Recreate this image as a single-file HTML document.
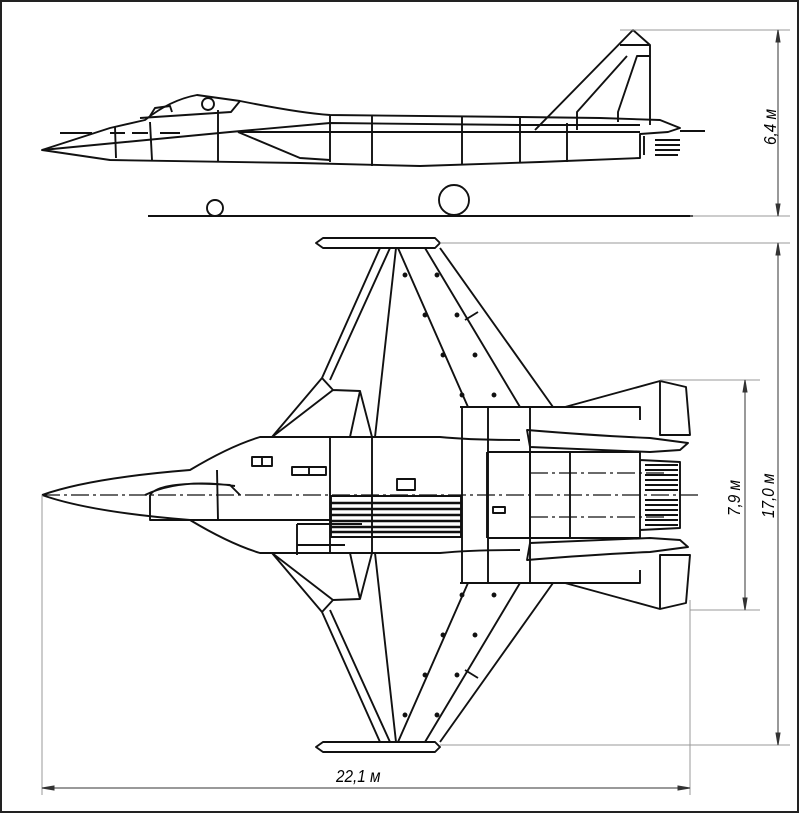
<!DOCTYPE html>
<html><head><meta charset="utf-8"><style>
html,body{margin:0;padding:0;background:#fff;}
svg{display:block;}
text{font-family:"Liberation Sans",sans-serif;font-style:italic;font-size:18px;fill:#000;}
</style></head><body>
<svg width="800" height="814" viewBox="0 0 800 814" xmlns="http://www.w3.org/2000/svg">
<rect x="1" y="1" width="797" height="811" fill="#fff" stroke="#222" stroke-width="2"/>
<g fill="none" stroke="#111" stroke-width="1.9" stroke-linejoin="round">
<!-- SIDE VIEW -->
<path d="M42,150 L110,128 L145,120 Q170,100 197,95 L240,101 Q300,113 330,115 L520,117 L600,118 L660,120 L680,128 L668,132 L640,134 L640,158 L540,162 L420,166 L300,163 L110,160 Z"/>
<path d="M140,118 L231,112 L240,101"/>
<path d="M150,116 L155,108 L170,106 L172,112"/>
<circle cx="208" cy="104" r="6"/>
<path d="M42,150 L230,132 L330,123 L520,125 L640,125"/>
<path d="M238,132 L300,158 L330,160"/>
<path d="M238,132 L330,132 L520,132 L640,132"/>
<path d="M115,127 L116,158 M150,122 L152,160 M218,110 L218,161 M330,116 L330,162 M372,116 L372,166 M462,117 L462,165 M520,118 L520,163 M567,123 L567,162"/>
<path d="M535,130 L633,30 L650,45 L650,125 M650,45 L620,45 M627,56 L577,112 L577,130 M650,56 L637,56 L618,112 L618,122"/>
<path d="M644,136 L644,155 M655,140 L680,140 M655,145 L680,145 M655,150 L680,150 M655,155 L678,155"/>
<path d="M60,133 L92,133 M110,133 L125,133 M132,133 L148,133 M160,133 L180,133 M680,131 L705,131"/>
<path d="M148,216 L693,216"/>
<circle cx="215" cy="208" r="8"/>
<circle cx="454" cy="200" r="15"/>
</g>
<!-- TOP VIEW -->
<g fill="none" stroke="#111" stroke-width="1.9" stroke-linejoin="round">
<g id="half">
<path d="M42,495 Q90,478 190,470 Q230,446 260,437 L440,437 Q470,440 520,440"/>
<path d="M316,243 L323,238 L435,238 L440,243 L435,248 L323,248 Z"/>
<path d="M380,248 L322,378 L333,390 L360,391 L350,437 M390,248 L330,380 M396,248 L375,437 M333,390 L272,437 M322,378 L272,437 M360,391 L372,437"/>
<path d="M398,248 L468,407 M425,248 L520,407 M440,248 L553,407 M465,320 L478,312"/>
<path d="M460,407 L640,407 L640,420 M565,407 L660,381 L686,387 L690,435 L660,435 L660,381"/>
<path d="M462,407 L462,495 M488,407 L488,495 M530,407 L530,495"/>
<path d="M527,430 Q600,436 650,438 L688,443 L680,450 L650,452 L530,447 Z"/>
<path d="M488,452 L640,452 L640,495 M487,452 L487,495 M530,452 L530,495 M570,452 L570,495 M640,460 L680,462 L680,495"/>
<path d="M645,465 L678,465 M645,470 L678,470 M645,475 L678,475 M645,480 L678,480 M645,485 L678,485 M645,490 L678,490"/>
<path d="M330,437 L330,495 M372,437 L372,495"/>
<circle cx="405" cy="275" r="1.5" fill="#111"/><circle cx="437" cy="275" r="1.5" fill="#111"/>
<circle cx="425" cy="315" r="1.5" fill="#111"/><circle cx="457" cy="315" r="1.5" fill="#111"/>
<circle cx="443" cy="355" r="1.5" fill="#111"/><circle cx="475" cy="355" r="1.5" fill="#111"/>
<circle cx="462" cy="395" r="1.5" fill="#111"/><circle cx="494" cy="395" r="1.5" fill="#111"/>
</g>
<use href="#half" transform="translate(0,990) scale(1,-1)"/>
<path d="M150,495 Q160,480 230,485 L240,495 M145,495 Q180,478 235,486"/>
<path d="M217,470 L218,520 M150,495 L150,520 L330,520"/>
<rect x="252" y="457" width="20" height="9"/><path d="M262,457 L262,466"/>
<rect x="292" y="467" width="34" height="8"/><path d="M309,467 L309,475"/>
<rect x="397" y="479" width="18" height="11"/>
<rect x="493" y="507" width="12" height="6"/>
<rect x="331" y="496" width="130" height="41"/>
<path d="M331,503 L461,503 M331,509 L461,509 M331,515 L461,515 M331,521 L461,521 M331,527 L461,527 M331,532 L461,532" stroke-width="2.6"/>
<path d="M297,524 L362,524 M297,524 L297,555 M297,545 L345,545"/>
</g>
<g stroke="#111" stroke-width="1.2" fill="none" stroke-dasharray="18,4,3,4">
<path d="M42,495 L700,495"/>
<path d="M530,473 L668,473 M530,517 L668,517"/>
</g>
<!-- DIMENSIONS -->
<g stroke="#999" stroke-width="1" fill="none">
<path d="M620,30 L790,30 M690,216 L790,216 M440,243 L790,243 M440,745 L790,745 M660,380 L760,380 M690,610 L760,610 M42,495 L42,795 M690,600 L690,795"/>
</g>
<g stroke="#333" stroke-width="1" fill="#333">
<path d="M778,30 L778,216 M778,243 L778,745 M745,380 L745,610 M42,788 L690,788" fill="none"/>
<path d="M778,30 l-2,12 l4,0 Z M778,216 l-2,-12 l4,0 Z M778,243 l-2,12 l4,0 Z M778,745 l-2,-12 l4,0 Z M745,380 l-2,12 l4,0 Z M745,610 l-2,-12 l4,0 Z M42,788 l12,-2 l0,4 Z M690,788 l-12,-2 l0,4 Z"/>
</g>
<text transform="translate(776,145) rotate(-90) scale(0.85,1)">6,4 м</text>
<text transform="translate(740,516) rotate(-90) scale(0.85,1)">7,9 м</text>
<text transform="translate(774,518) rotate(-90) scale(0.85,1)">17,0 м</text>
<text transform="translate(336,782) scale(0.85,1)">22,1 м</text>
</svg>
</body></html>
